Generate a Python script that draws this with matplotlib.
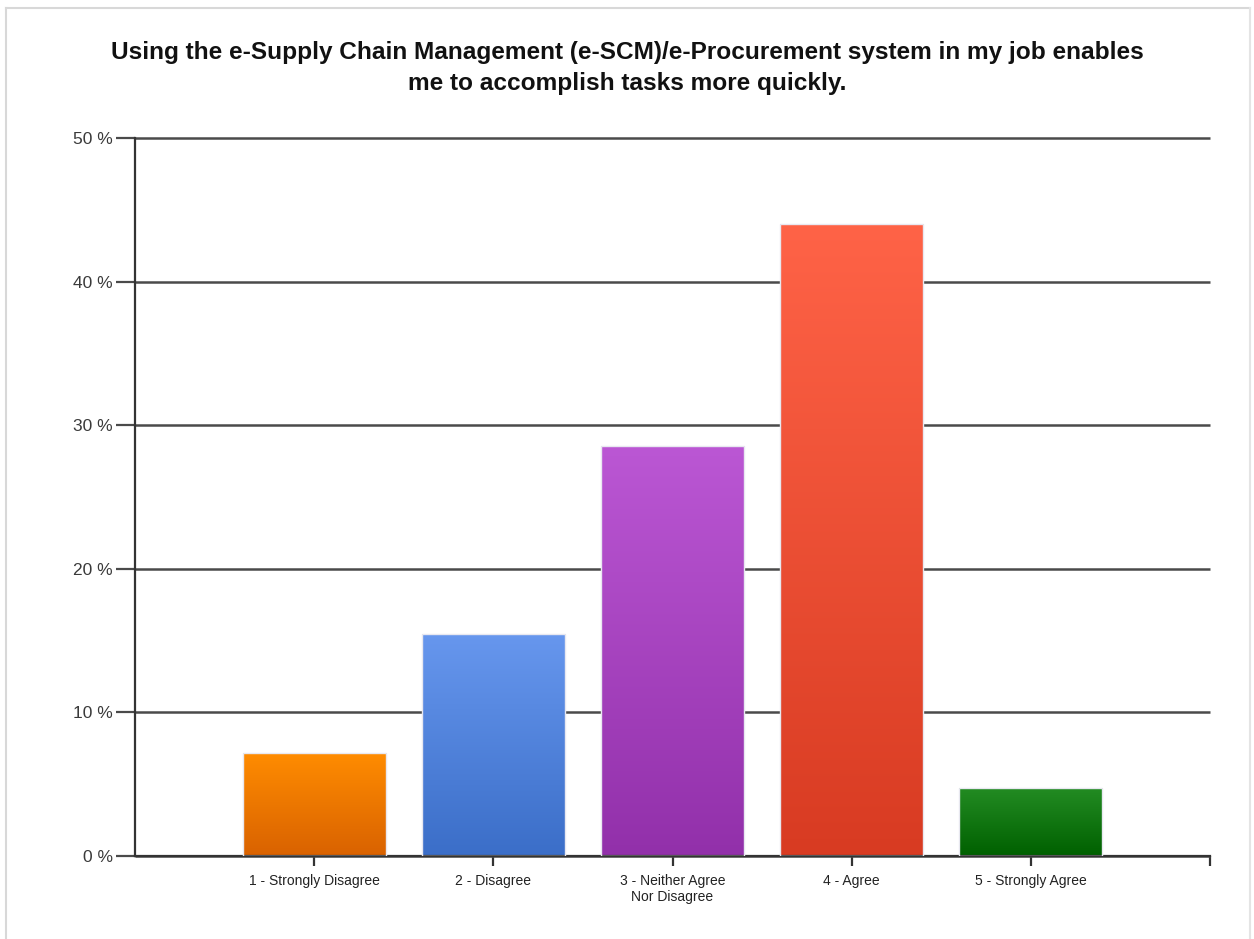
import numpy as np
import matplotlib.pyplot as plt
from matplotlib.colors import LinearSegmentedColormap
from matplotlib.ticker import MultipleLocator, FuncFormatter

plt.rcParams['font.family'] = ['Liberation Sans', 'DejaVu Sans']

# survey responses (84 respondents), shown as share of total
categories = ["1 - Strongly Disagree", "2 - Disagree", "3 - Neither Agree\nNor Disagree",
              "4 - Agree", "5 - Strongly Agree"]
counts = [6, 13, 24, 37, 4]
percent = [100.0 * c / sum(counts) for c in counts]

# gradient colours per bar: (top, bottom)
bar_colors = [("#ff8c00", "#d96200"),
              ("#6797ee", "#3b6ec8"),
              ("#bb57d4", "#9230aa"),
              ("#ff6347", "#d83b22"),
              ("#238c23", "#006000")]

title = ("Using the e-Supply Chain Management (e-SCM)/e-Procurement system in my job enables\n"
         "me to accomplish tasks more quickly.")

fig = plt.figure(figsize=(12.54, 9.39), dpi=100)
ax = fig.add_axes([0.1077, 0.0884, 0.9649 - 0.1077, 0.853 - 0.0884])

x = np.arange(1, len(categories) + 1)
bars = ax.bar(x, percent, width=0.8, facecolor="none", edgecolor="#e8e8f0",
              linewidth=1.0, zorder=3)

grad = np.linspace(0, 1, 256).reshape(-1, 1)
for bar, (top, bottom) in zip(bars, bar_colors):
    cmap = LinearSegmentedColormap.from_list("g", [bottom, top])
    bx, bw, bh = bar.get_x(), bar.get_width(), bar.get_height()
    im = ax.imshow(grad, cmap=cmap, origin="lower", aspect="auto",
                   extent=[bx, bx + bw, 0, bh], zorder=2)
    im.set_clip_path(bar)

ax.set_xlim(0, 6)
ax.set_ylim(0, 50)
ax.yaxis.set_major_locator(MultipleLocator(10))
ax.yaxis.set_major_formatter(FuncFormatter(lambda v, p: f"{v:.0f} %"))
ax.grid(axis="y", color="#4a4a4a", linewidth=1.8, zorder=1, solid_capstyle="butt")
for gl in ax.get_ygridlines():
    gl.set_clip_on(False)
ax.set_axisbelow(True)

ax.set_xticks(list(x) + [6])
ax.set_xticklabels(categories + [""])
for s in ["top", "right"]:
    ax.spines[s].set_visible(False)
for s in ["left", "bottom"]:
    ax.spines[s].set_color("#333333")
    ax.spines[s].set_linewidth(1.6)
ax.tick_params(axis="y", length=14, width=1.6, color="#4a4a4a", labelsize=12.5,
               labelcolor="#3a3a3a", pad=2)
ax.tick_params(axis="x", length=7, width=1.6, color="#333333", labelsize=10,
               labelcolor="#222222", pad=6, direction="out")

fig.text(0.5, 0.9276, title, ha="center", va="center", fontsize=17.6,
         fontweight="bold", color="#111111", linespacing=1.45)

# light frame round the chart area
fig.add_artist(plt.Line2D([0.005, 0.997], [0.991, 0.991], color="#d8d8d8", lw=1.5,
                          transform=fig.transFigure))
fig.add_artist(plt.Line2D([0.005, 0.005], [0.0, 0.991], color="#d8d8d8", lw=1.5,
                          transform=fig.transFigure))
fig.add_artist(plt.Line2D([0.997, 0.997], [0.0, 0.991], color="#e4e4e4", lw=1.5,
                          transform=fig.transFigure))

fig.savefig("out.png", dpi=100)
